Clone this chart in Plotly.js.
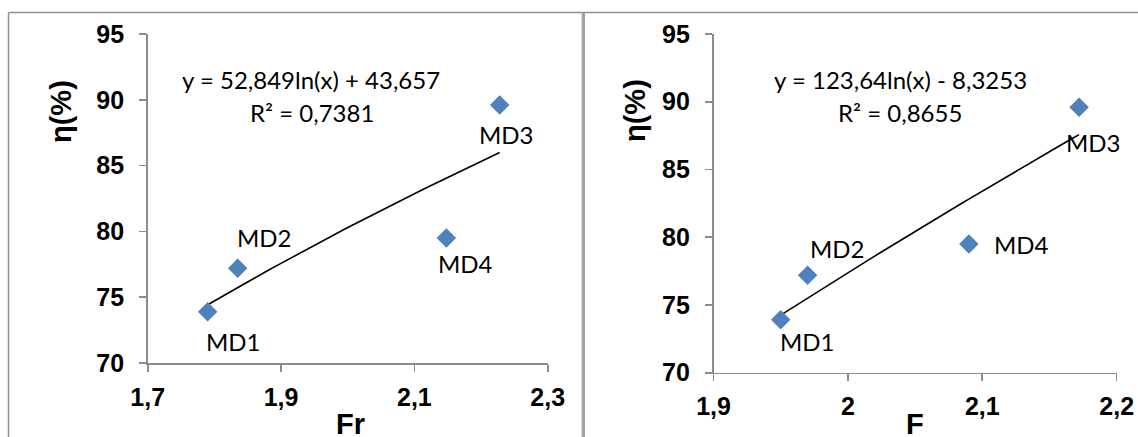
<!DOCTYPE html>
<html><head><meta charset="utf-8">
<script src="https://cdn.plot.ly/plotly-3.0.1.min.js"></script>
<style>html,body{margin:0;padding:0;background:#fff}#c{width:1138px;height:437px}</style>
</head><body><div id="c"></div>
<script>
// ---- data ----
const names = ["MD1", "MD2", "MD3", "MD4"];
const fr = [1.79, 1.835, 2.228, 2.148];
const fVals = [1.95, 1.97, 2.172, 2.09];
const eta = [73.9, 77.2, 89.6, 79.5];
const fitLeft = {a: 52.849, b: 43.657};
const fitRight = {a: 123.64, b: -8.3253};
const eqLeft = ["y = 52,849ln(x) + 43,657", "R² = 0,7381"];
const eqRight = ["y = 123,64ln(x) - 8,3253", "R² = 0,8655"];
const xTicksLeft = [1.7, 1.9, 2.1, 2.3];
const xTickTextLeft = ["1,7", "1,9", "2,1", "2,3"];
const xTicksRight = [1.9, 2.0, 2.1, 2.2];
const xTickTextRight = ["1,9", "2", "2,1", "2,2"];
const yTicks = [70, 75, 80, 85, 90, 95];
const yTickText = ["70", "75", "80", "85", "90", "95"];

// ---- layout helpers ----
const W = 1138, H = 437;
const px = x => x / W, py = y => 1 - y / H;

function trend(xs, fit) {
  const lo = Math.min(...xs), hi = Math.max(...xs), n = 30;
  const X = [], Y = [];
  for (let i = 0; i <= n; i++) { const x = lo + (hi - lo) * i / n; X.push(x); Y.push(fit.a * Math.log(x) + fit.b); }
  return {X, Y};
}
const tL = trend(fr, fitLeft), tR = trend(fVals, fitRight);

const blue = "#4F81BD";
const traces = [
  {x: tL.X, y: tL.Y, xaxis: "x", yaxis: "y", mode: "lines", line: {color: "#000", width: 1.6}, hoverinfo: "skip"},
  {x: fr, y: eta, xaxis: "x", yaxis: "y", mode: "markers", marker: {symbol: "diamond", size: 15, color: blue}, text: names},
  {x: tR.X, y: tR.Y, xaxis: "x2", yaxis: "y2", mode: "lines", line: {color: "#000", width: 1.6}, hoverinfo: "skip"},
  {x: fVals, y: eta, xaxis: "x2", yaxis: "y2", mode: "markers", marker: {symbol: "diamond", size: 15, color: blue}, text: names}
];

const tickFont = {family: "Liberation Sans, Arial, sans-serif", size: 25, color: "#000", weight: "bold"};
const axisCommon = {showgrid: false, zeroline: false, showline: true, linecolor: "#8c8c8c", linewidth: 1.6,
  ticks: "outside", ticklen: 7, tickcolor: "#8c8c8c", tickwidth: 1.6, tickfont: tickFont, fixedrange: true};

const lblFont = {family: "Lato, Calibri, sans-serif", size: 24, color: "#000"};
const offL = [[25, -30], [26, 31], [6, -29], [19, -26]];
const offR = [[26, -22], [29, 27], [14, -35], [53, -1]];
const ann = [];
names.forEach((n, i) => {
  ann.push({x: fr[i], y: eta[i], xref: "x", yref: "y", text: n, showarrow: false, xshift: offL[i][0], yshift: offL[i][1], font: lblFont});
  ann.push({x: fVals[i], y: eta[i], xref: "x2", yref: "y2", text: n, showarrow: false, xshift: offR[i][0], yshift: offR[i][1], font: lblFont});
});
function pAnn(x, y, text, font, extra) {
  ann.push(Object.assign({x: px(x), y: py(y), xref: "paper", yref: "paper", xanchor: "center", yanchor: "middle", text: text, showarrow: false, font: font}, extra || {}));
}
pAnn(311, 80, eqLeft[0], lblFont);
pAnn(312, 113, eqLeft[1], lblFont);
pAnn(900, 80, eqRight[0], lblFont);
pAnn(900, 113, eqRight[1], lblFont);
const titleFont = {family: "Liberation Sans, Arial, sans-serif", size: 29, color: "#000", weight: "bold"};
pAnn(61, 112, "η(%)", titleFont, {textangle: -90});
pAnn(635, 111, "η(%)", titleFont, {textangle: -90});
pAnn(350, 424, "Fr", titleFont);
pAnn(915, 424, "F", titleFont);

const borderCol = "#8f8f8f";
const shapes = [
  {type: "line", xref: "paper", yref: "paper", x0: px(8.5), x1: px(8.5), y0: py(12.5), y1: 0, line: {color: borderCol, width: 1.5}},
  {type: "line", xref: "paper", yref: "paper", x0: px(8.5), x1: 1, y0: py(12.5), y1: py(12.5), line: {color: borderCol, width: 1.5}},
  {type: "line", xref: "paper", yref: "paper", x0: px(583.3), x1: px(583.3), y0: py(12.5), y1: 0, line: {color: "#a3a3a3", width: 3.4}}
];

const layout = {
  width: W, height: H, margin: {l: 0, r: 0, t: 0, b: 0}, showlegend: false,
  paper_bgcolor: "#fff", plot_bgcolor: "#fff", hovermode: false,
  xaxis: Object.assign({}, axisCommon, {domain: [px(147.7), px(547.7)], range: [1.7, 2.3], tickvals: xTicksLeft, ticktext: xTickTextLeft, anchor: "y", ticklabelstandoff: 4}),
  yaxis: Object.assign({}, axisCommon, {domain: [py(363), py(34)], range: [70, 95], tickvals: yTicks, ticktext: yTickText, anchor: "x", ticklabelstandoff: 10}),
  xaxis2: Object.assign({}, axisCommon, {domain: [px(713.5), px(1116.7)], range: [1.9, 2.2], tickvals: xTicksRight, ticktext: xTickTextRight, anchor: "y2", ticklabelstandoff: 4}),
  yaxis2: Object.assign({}, axisCommon, {domain: [py(372.7), py(34)], range: [70, 95], tickvals: yTicks, ticktext: yTickText, anchor: "x2", ticklabelstandoff: 10}),
  annotations: ann, shapes: shapes
};
Plotly.newPlot("c", traces, layout, {displayModeBar: false, staticPlot: true});
</script></body></html>
